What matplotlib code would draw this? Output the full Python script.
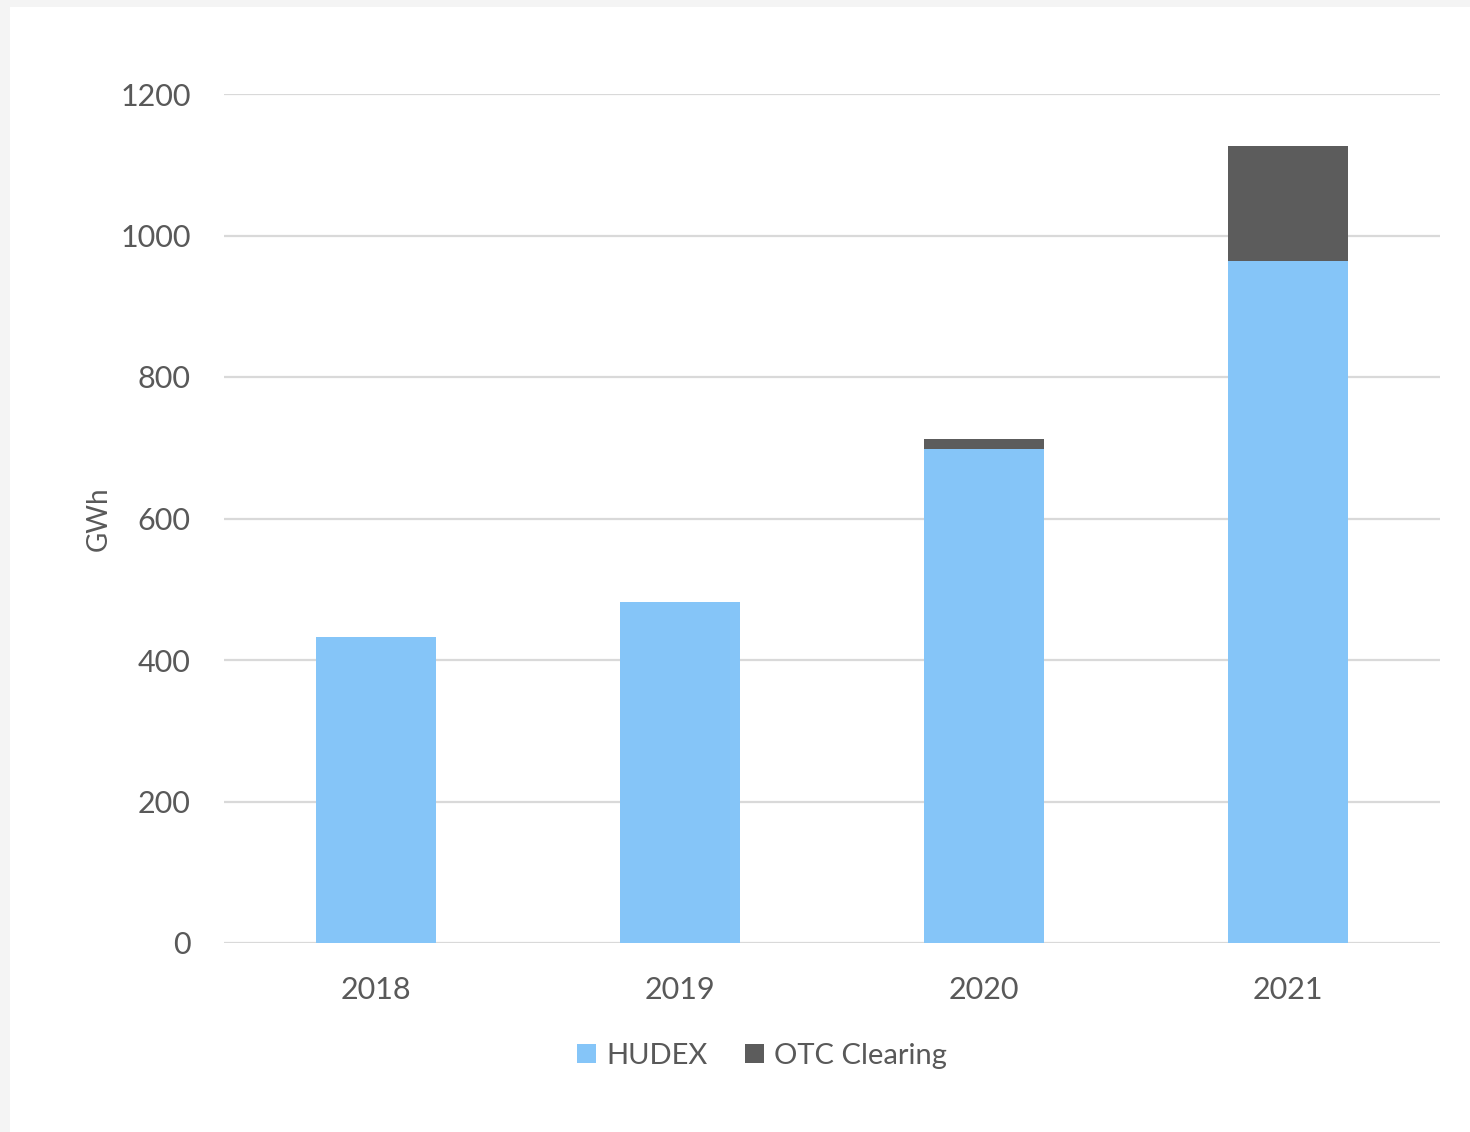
import matplotlib.pyplot as plt
import matplotlib.patches as mpatches
import numpy as np

# data
years = ["2018", "2019", "2020", "2021"]
hudex = [433, 482, 698, 964]
otc   = [0, 0, 14, 162]

BLUE = "#85c5f8"
DARK = "#5c5c5c"
TXT  = "#595959"
GRID = "#d9d9d9"

plt.rcParams["font.family"] = ["Lato", "DejaVu Sans"]

fig = plt.figure(figsize=(14.7, 11.32), dpi=100, facecolor="#f4f4f4")
# white card with a thin light-gray margin on the left/top
fig.patches.append(mpatches.Rectangle((10 / 1470, 0), 1, 1 - 7 / 1132,
                                      transform=fig.transFigure,
                                      facecolor="white", edgecolor="none", zorder=-10))

ax = fig.add_axes([224 / 1470, 1 - 943 / 1132, (1440 - 224) / 1470, (943 - 94) / 1132])
ax.set_facecolor("none")

x = np.arange(len(years))
ax.bar(x, hudex, width=0.395, color=BLUE, label="HUDEX", zorder=3)
ax.bar(x, otc, width=0.395, bottom=hudex, color=DARK, label="OTC Clearing", zorder=3)

ax.set_xlim(-0.5, 3.5)
ax.set_ylim(0, 1200)
ax.set_yticks(range(0, 1201, 200))
ax.set_xticks(x)
ax.set_xticklabels(years)
ax.yaxis.grid(True, color=GRID, linewidth=1.6, zorder=0)
ax.set_axisbelow(True)
for s in ax.spines.values():
    s.set_visible(False)
ax.tick_params(length=0, labelsize=22, colors=TXT)
ax.tick_params(axis="y", pad=24)
ax.tick_params(axis="x", pad=24)
ax.set_ylabel("GWh", fontsize=20, color=TXT, labelpad=6)

ax.legend(loc="center", bbox_to_anchor=(762 / 1470, 1 - 1056 / 1132),
          bbox_transform=fig.transFigure, ncol=2, frameon=False,
          fontsize=21, labelcolor=TXT, handlelength=0.65, handleheight=0.65,
          handletextpad=0.35, columnspacing=1.3)

fig.savefig("out.png", dpi=100, facecolor=fig.get_facecolor())
